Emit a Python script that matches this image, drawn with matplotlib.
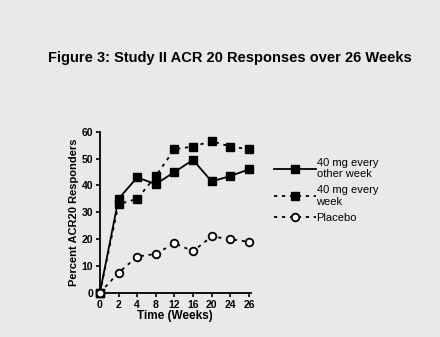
import numpy as np
import matplotlib
matplotlib.use("Agg")
import matplotlib.pyplot as plt

# data
weeks = ["0", "2", "4", "8", "12", "16", "20", "24", "26"]
eow_40mg = [0, 35, 43, 40.5, 45, 49.5, 41.5, 43.5, 46]
weekly_40mg = [0, 33, 35, 43.5, 53.5, 54.5, 56.5, 54.5, 53.5]
placebo = [0, 7.5, 13.5, 14.5, 18.5, 15.5, 21, 20, 19]
labels = ["40 mg every\nother week", "40 mg every\nweek", "Placebo"]

plt.rcParams['font.family'] = ['Liberation Sans', 'DejaVu Sans']
bg = "#e9e9e9"

fig = plt.figure(figsize=(4.4, 3.37), dpi=100, facecolor=bg)
ax = fig.add_axes([0.227, 0.131, 0.343, 0.478], facecolor=bg)

x = np.arange(len(weeks))
l1, = ax.plot(x, eow_40mg, '-', color='black', lw=1.3, marker='s', ms=5.8,
              mfc='black', mec='black', zorder=3, clip_on=False)
l2, = ax.plot(x, weekly_40mg, color='black', lw=1.3, marker='s', ms=5.8,
              mfc='black', mec='black', zorder=3, dashes=(1.8, 2.6), clip_on=False)
l3, = ax.plot(x, placebo, color='black', lw=1.3, marker='o', ms=5.5,
              mfc='white', mec='black', mew=1.3, zorder=3, dashes=(1.8, 2.6),
              clip_on=False)

ax.set_xlim(0, 8.1)
ax.set_ylim(0, 60)
ax.set_xticks(x)
ax.set_xticklabels(weeks)
ax.set_yticks([0, 10, 20, 30, 40, 50, 60])
for s in ['top', 'right']:
    ax.spines[s].set_visible(False)
for s in ['left', 'bottom']:
    ax.spines[s].set_linewidth(1.3)
ax.tick_params(labelsize=7.5, width=1.2, length=3, pad=2)
for t in ax.get_xticklabels() + ax.get_yticklabels():
    t.set_fontweight('bold')
ax.set_xlabel("Time (Weeks)", fontsize=8.5, fontweight='bold', labelpad=0)
ax.set_ylabel("Percent ACR20 Responders", fontsize=8, fontweight='bold', labelpad=2)

leg = fig.legend([l1, l2, l3], labels, loc='upper left',
                 bbox_to_anchor=(0.612, 0.545), frameon=False, fontsize=8,
                 handlelength=3.8, handletextpad=0.05, labelspacing=0.55,
                 borderaxespad=0)

fig.text(0.523, 0.828, "Figure 3: Study II ACR 20 Responses over 26 Weeks",
         ha='center', va='center', fontsize=10.5, fontweight='bold')

fig.savefig("out.png", dpi=100, facecolor=bg)
